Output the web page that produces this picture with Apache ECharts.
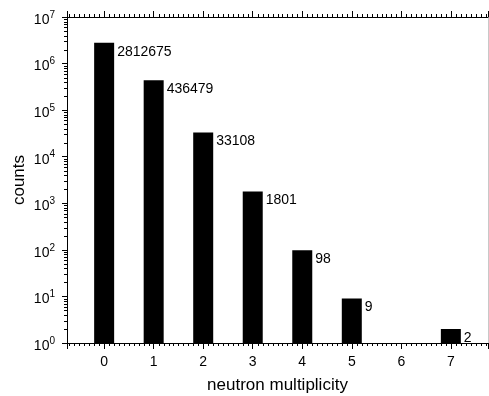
<!DOCTYPE html>
<html>
<head>
<meta charset="utf-8">
<script src="https://cdn.jsdelivr.net/npm/echarts@6/dist/echarts.min.js"></script>
<style>
html, body { margin: 0; padding: 0; background: #fff; }
#chart { width: 489px; height: 396px; }
</style>
</head>
<body>
<div id="chart"></div>
<script>
// data
const multiplicity = [0, 1, 2, 3, 4, 5, 6, 7];
const counts = [2812675, 436479, 33108, 1801, 98, 9, null, 2];
// axis decorations
const decades = [0, 1, 2, 3, 4, 5, 6];
const minorSteps = [2, 3, 4, 5, 6, 7, 8, 9];
const xMinorFractions = [0.1, 0.2, 0.3, 0.4, 0.5, 0.6, 0.7, 0.8, 0.9];

const xMin = -0.75, xMax = 7.75;
const yMin = 1, yMax = 1e7;
const font = 'Liberation Sans, Arial, sans-serif';

const barData = [];
multiplicity.forEach((m, i) => {
  if (counts[i] != null) barData.push([m, counts[i]]);
});

const chart = echarts.init(document.getElementById('chart'));

const xCommon = {
  type: 'value',
  min: xMin,
  max: xMax,
  splitNumber: 8,
  splitLine: { show: false },
  axisLine: { onZero: false, lineStyle: { color: '#000', width: 1 } },
  axisTick: { show: true, length: 6, lineStyle: { color: '#000' } }
};

const option = {
  animation: false,
  grid: { left: 67, top: 17, right: 1, bottom: 53, containLabel: false, outerBoundsMode: 'none' },
  xAxis: [
    Object.assign({}, xCommon, {
      position: 'bottom',
      name: 'neutron multiplicity',
      nameLocation: 'middle',
      nameGap: 34,
      nameTextStyle: { fontFamily: font, fontSize: 17, color: '#000' },
      axisLabel: {
        margin: 12,
        fontFamily: font,
        fontSize: 14,
        color: '#000',
        formatter: v => (Number.isInteger(v) ? String(v) : '')
      }
    }),
    Object.assign({}, xCommon, {
      position: 'top',
      axisLabel: { show: false }
    })
  ],
  yAxis: [
    {
      type: 'log',
      min: yMin,
      max: yMax,
      logBase: 10,
      position: 'left',
      name: 'counts',
      nameLocation: 'middle',
      nameGap: 39,
      nameMoveOverlap: false,
      nameTextStyle: { fontFamily: font, fontSize: 17, color: '#000' },
      splitLine: { show: false },
      axisLine: { show: true, onZero: false, lineStyle: { color: '#000', width: 1 } },
      axisTick: { show: true, length: 5, lineStyle: { color: '#000' } },
      axisLabel: {
        margin: 12,
        color: '#000',
        formatter: v => '{b|10}{s|' + Math.round(Math.log10(v)) + '}',
        rich: {
          b: { fontFamily: font, fontSize: 14, color: '#000', padding: [6, 0, 0, 0] },
          s: { fontFamily: font, fontSize: 10, color: '#000', padding: [0, 0, 4, 0] }
        }
      }
    },
    {
      type: 'log',
      min: yMin,
      max: yMax,
      position: 'right',
      splitLine: { show: false },
      axisLine: { show: true, onZero: false, lineStyle: { color: '#c8c8c8', width: 1 } },
      axisTick: { show: false },
      axisLabel: { show: false }
    }
  ],
  series: [
    {
      type: 'bar',
      xAxisIndex: 0,
      yAxisIndex: 0,
      data: barData,
      barWidth: 20,
      itemStyle: { color: '#000' },
      label: {
        show: true,
        position: ['100%', 0],
        offset: [3, 2],
        align: 'left',
        verticalAlign: 'top',
        fontFamily: font,
        fontSize: 14,
        color: '#000',
        formatter: p => String(p.value[1])
      }
    }
  ]
};

chart.setOption(option);

// minor ticks, placed through the axes' own scales
const toPx = v => chart.convertToPixel({ xAxisIndex: 0, yAxisIndex: 0 }, v);
const tickLine = (x1, y1, x2, y2) => ({
  type: 'line',
  silent: true,
  shape: { x1: x1, y1: y1, x2: x2, y2: y2 },
  style: { stroke: '#000', lineWidth: 1 }
});
const minorTicks = [];
decades.forEach(d => minorSteps.forEach(s => {
  const p = toPx([xMin, s * Math.pow(10, d)]);
  const y = Math.round(p[1]) + 0.5;
  minorTicks.push(tickLine(p[0] - 3, y, p[0], y));
}));
[-1].concat(multiplicity).forEach(m => xMinorFractions.forEach(f => {
  const v = +(m + f).toFixed(2);
  if (v <= xMin || v >= xMax) return;
  const pb = toPx([v, yMin]);
  const pt = toPx([v, yMax]);
  const x = Math.round(pb[0]) + 0.5;
  minorTicks.push(tickLine(x, pb[1], x, pb[1] + 3));
  minorTicks.push(tickLine(x, pt[1] - 3, x, pt[1]));
}));
chart.setOption({ graphic: minorTicks });
</script>
</body>
</html>
